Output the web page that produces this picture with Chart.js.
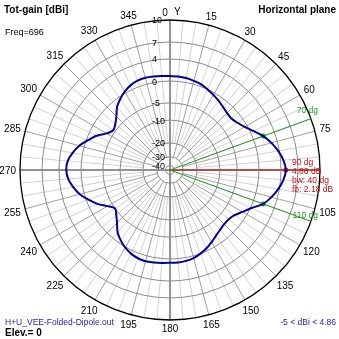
<!DOCTYPE html>
<html>
<head>
<meta charset="utf-8">
<script src="https://cdn.jsdelivr.net/npm/chart.js"></script>
<style>
  html, body { margin: 0; padding: 0; background: #fff; }
  canvas { display: block; }
</style>
</head>
<body>
<canvas id="pattern" width="339" height="339"></canvas>
<script>
// --- dati del diagramma (guadagno totale, piano orizzontale) ---
const ANGLES = [
  0, 5, 10, 15, 20, 25, 30, 35, 40, 45, 50, 55,
  60, 65, 70, 75, 80, 85, 90, 95, 100, 105, 110, 115,
  120, 125, 130, 135, 140, 145, 150, 155, 160, 165, 170, 175,
  180, 185, 190, 195, 200, 205, 210, 215, 220, 225, 230, 235,
  240, 245, 250, 255, 260, 265, 270, 275, 280, 285, 290, 295,
  300, 305, 310, 315, 320, 325, 330, 335, 340, 345, 350, 355,
];

// dBi ogni 5 gradi
const GAIN = [
  0.9, 0.9, 0.8, 0.6, 0.4, 0.0, -0.5, -1.0, -1.5, -1.9, -2.0, -1.5,
  -0.6, 0.6, 1.86, 2.9, 3.8, 4.5, 4.86, 4.5, 3.8, 2.9, 1.86, 0.2,
  -1.2, -2.3, -2.8, -2.8, -2.5, -2.0, -1.3, -0.6, 0.0, 0.4, 0.6, 0.7,
  0.7, 0.8, 0.9, 1.0, 0.9, 0.6, 0.1, -0.7, -1.7, -3.2, -4.3, -5.0,
  -3.8, -2.0, -0.5, 0.8, 1.7, 2.4, 2.68, 2.5, 1.8, 0.9, -0.4, -1.8,
  -3.6, -4.5, -4.0, -3.0, -1.5, -0.5, 0.3, 0.8, 1.1, 1.2, 1.1, 1.0,
];

// cerchi della scala (dB) e loro raggio relativo (scala logaritmica tipo ARRL)
const RING_DB = [-40, -30, -20, -10, -5, 0, 4, 7, 10];
const RING_FRAC = [0.03, 0.088, 0.18, 0.333, 0.447, 0.593, 0.74, 0.853, 1];

// lobo principale e punti a -3 dB
const MAIN_DEG = 90;
const HALF_POWER_DEG = [70, 110];
const MAX_GAIN = 4.86;
const MIN_GAIN = -5;
const BEAMWIDTH = 40;
const FRONT_BACK = 2.18;

const FONT = "Arial, 'Liberation Sans', sans-serif";
const COL = {
  curve: "#00009c",
  ring: "#8a8a8a",
  outer: "#000000",
  axis: "#6e6e6e",
  major: "#a0a0a0",
  minor: "#d2d2d2",
  green: "#1f9a1f",
  red: "#cc1010",
  blue: "#1c1cb4",
};

// --- scala radiale in dB (non lineare) ---
class DbRadialScale extends Chart.RadialLinearScale {
  static id = "dbRadial";

  buildTicks() {
    return RING_DB.map((v) => ({ value: v }));
  }

  getDistanceFromCenterForValue(value) {
    if (value === null || value === undefined || isNaN(value)) return NaN;
    const n = RING_DB.length;
    let f;
    if (value <= RING_DB[0]) f = RING_FRAC[0] * Math.max(0, 1 - (RING_DB[0] - value) / 10);
    else if (value >= RING_DB[n - 1]) f = 1;
    else {
      let k = 0;
      while (value > RING_DB[k + 1]) k++;
      const t = (value - RING_DB[k]) / (RING_DB[k + 1] - RING_DB[k]);
      f = RING_FRAC[k] + t * (RING_FRAC[k + 1] - RING_FRAC[k]);
    }
    return this.drawingArea * f;
  }

  drawGrid() {
    const ctx = this.ctx;
    const cx = this.xCenter, cy = this.yCenter;
    const labels = this.getLabels();
    const outer = this.getDistanceFromCenterForValue(10);
    const rMinor = this.getDistanceFromCenterForValue(-20);
    const rMajor = this.getDistanceFromCenterForValue(-30);
    ctx.save();

    // raggi: ogni 5 gradi chiari, ogni 15 piÃ¹ scuri, assi principali pieni
    for (let i = labels.length - 1; i >= 0; i--) {
      const deg = labels[i];
      let from = rMinor, color = COL.minor;
      if (deg % 90 === 0) { from = 0; color = COL.axis; }
      else if (deg % 15 === 0) { from = rMajor; color = COL.major; }
      const a = this.getPointPosition(i, from);
      const b = this.getPointPosition(i, outer);
      ctx.beginPath();
      ctx.moveTo(a.x, a.y);
      ctx.lineTo(b.x, b.y);
      ctx.strokeStyle = color;
      ctx.lineWidth = deg % 90 === 0 ? 1.5 : 1;
      ctx.stroke();
    }

    // cerchi
    RING_DB.forEach((v) => {
      ctx.beginPath();
      ctx.arc(cx, cy, this.getDistanceFromCenterForValue(v), 0, Math.PI * 2);
      ctx.strokeStyle = v === 10 ? COL.outer : COL.ring;
      ctx.lineWidth = v === 10 ? 1.3 : 1;
      ctx.stroke();
    });

    // etichette degli angoli
    ctx.font = "10px " + FONT;
    ctx.fillStyle = "#000";
    ctx.textAlign = "center";
    ctx.textBaseline = "middle";
    this._pointLabels.forEach((txt, i) => {
      if (txt === "") return;
      const w = ctx.measureText(txt).width;
      const p0 = this.getPointPosition(i, outer);
      const c = Math.cos(p0.angle), s = Math.sin(p0.angle);
      const d = outer + 4 + Math.abs(c) * w / 2 + Math.abs(s) * 4;
      const p = this.getPointPosition(i, d);
      const shift = labels[i] === 0 ? -5 : 0;
      ctx.fillText(txt, p.x + shift, p.y + 1);
    });
    ctx.restore();
  }

  drawLabels() {
    const ctx = this.ctx;
    ctx.save();
    ctx.font = "9px " + FONT;
    ctx.fillStyle = "#000";
    ctx.textAlign = "left";
    ctx.textBaseline = "middle";
    this.ticks.forEach((t) => {
      const r = this.getDistanceFromCenterForValue(t.value);
      ctx.fillText(String(t.value), this.xCenter - 18, this.yCenter - r + 1);
    });
    ctx.restore();
  }
}
Chart.register(DbRadialScale);

// marcatori: massimo (rosso) e punti a -3 dB (verdi)
const markerData = ANGLES.map((d, i) =>
  d === MAIN_DEG || HALF_POWER_DEG.includes(d) ? GAIN[i] : null
);

// --- linee di beamwidth e testi ---
const beamLines = {
  id: "beamLines",
  beforeDatasetsDraw(chart) {
    const r = chart.scales.r;
    const ctx = chart.ctx;
    const outer = r.getDistanceFromCenterForValue(10);
    ctx.save();
    ctx.lineWidth = 1;
    [MAIN_DEG, ...HALF_POWER_DEG].forEach((deg) => {
      const i = ANGLES.indexOf(deg);
      const end = r.getPointPosition(i, outer);
      ctx.beginPath();
      ctx.moveTo(r.xCenter, r.yCenter);
      ctx.lineTo(end.x, end.y);
      ctx.strokeStyle = deg === MAIN_DEG ? COL.red : COL.green;
      ctx.stroke();
    });
    ctx.restore();
  },
  afterDraw(chart) {
    const r = chart.scales.r;
    const ctx = chart.ctx;
    const outer = r.getDistanceFromCenterForValue(10);
    ctx.save();
    ctx.textBaseline = "middle";

    // etichette verdi -3 dB
    ctx.font = "8.5px " + FONT;
    ctx.fillStyle = COL.green;
    ctx.textAlign = "right";
    HALF_POWER_DEG.forEach((deg) => {
      const end = r.getPointPosition(ANGLES.indexOf(deg), outer);
      const dy = deg < MAIN_DEG ? -8 : -6;
      ctx.fillText(deg + " dg", end.x + 7, end.y + dy);
    });

    // riepilogo lobo principale
    const m = r.getPointPosition(ANGLES.indexOf(MAIN_DEG), outer);
    ctx.fillStyle = COL.red;
    ctx.textAlign = "left";
    const lines = [
      MAIN_DEG + " dg",
      MAX_GAIN.toFixed(2) + " dB",
      "bw: " + BEAMWIDTH + " dg",
      "fb: " + FRONT_BACK.toFixed(2) + " dB",
    ];
    lines.forEach((t, k) => ctx.fillText(t, m.x - 28, m.y - 7 + k * 9));

    // titoli
    ctx.fillStyle = "#000";
    ctx.font = "bold 10px " + FONT;
    ctx.textBaseline = "alphabetic";
    ctx.fillText("Tot-gain [dBi]", 4, 13);
    ctx.textAlign = "right";
    ctx.fillText("Horizontal plane", 336, 13);
    ctx.textAlign = "left";
    ctx.font = "9px " + FONT;
    ctx.fillText("Freq=696", 5, 35);

    // asse Y
    ctx.font = "10px " + FONT;
    ctx.fillText("Y", 174, 15);

    // piede
    ctx.font = "8.5px " + FONT;
    ctx.fillStyle = COL.blue;
    ctx.fillText("H+U_VEE-Folded-Dipole.out", 5, 325);
    ctx.textAlign = "right";
    ctx.fillText(MIN_GAIN + " < dBi < " + MAX_GAIN, 336, 325);
    ctx.textAlign = "left";
    ctx.fillStyle = "#000";
    ctx.font = "bold 10px " + FONT;
    ctx.fillText("Elev.= 0", 5, 336);
    ctx.restore();
  },
};

new Chart(document.getElementById("pattern"), {
  type: "radar",
  data: {
    labels: ANGLES,
    datasets: [
      {
        data: GAIN,
        borderColor: COL.curve,
        borderWidth: 2,
        backgroundColor: "transparent",
        fill: false,
        pointRadius: 0,
        tension: 0.3,
      },
      {
        data: markerData,
        showLine: false,
        pointRadius: 2.5,
        pointBorderWidth: 0,
        pointBackgroundColor: (ctx) =>
          ANGLES[ctx.dataIndex] === MAIN_DEG ? COL.red : COL.green,
      },
    ],
  },
  options: {
    responsive: false,
    animation: false,
    layout: { padding: { left: 20, top: 20, right: 19, bottom: 19 } },
    plugins: { legend: { display: false }, tooltip: { enabled: false } },
    scales: {
      r: {
        type: "dbRadial",
        min: -40,
        max: 10,
        ticks: { display: false },
        pointLabels: {
          display: false,
          // solo multipli di 15, il 90 resta coperto dal riepilogo
          callback: (v) => (v % 15 === 0 && v !== 90 ? String(v) : ""),
        },
      },
    },
  },
  plugins: [beamLines],
});
</script>
</body>
</html>
